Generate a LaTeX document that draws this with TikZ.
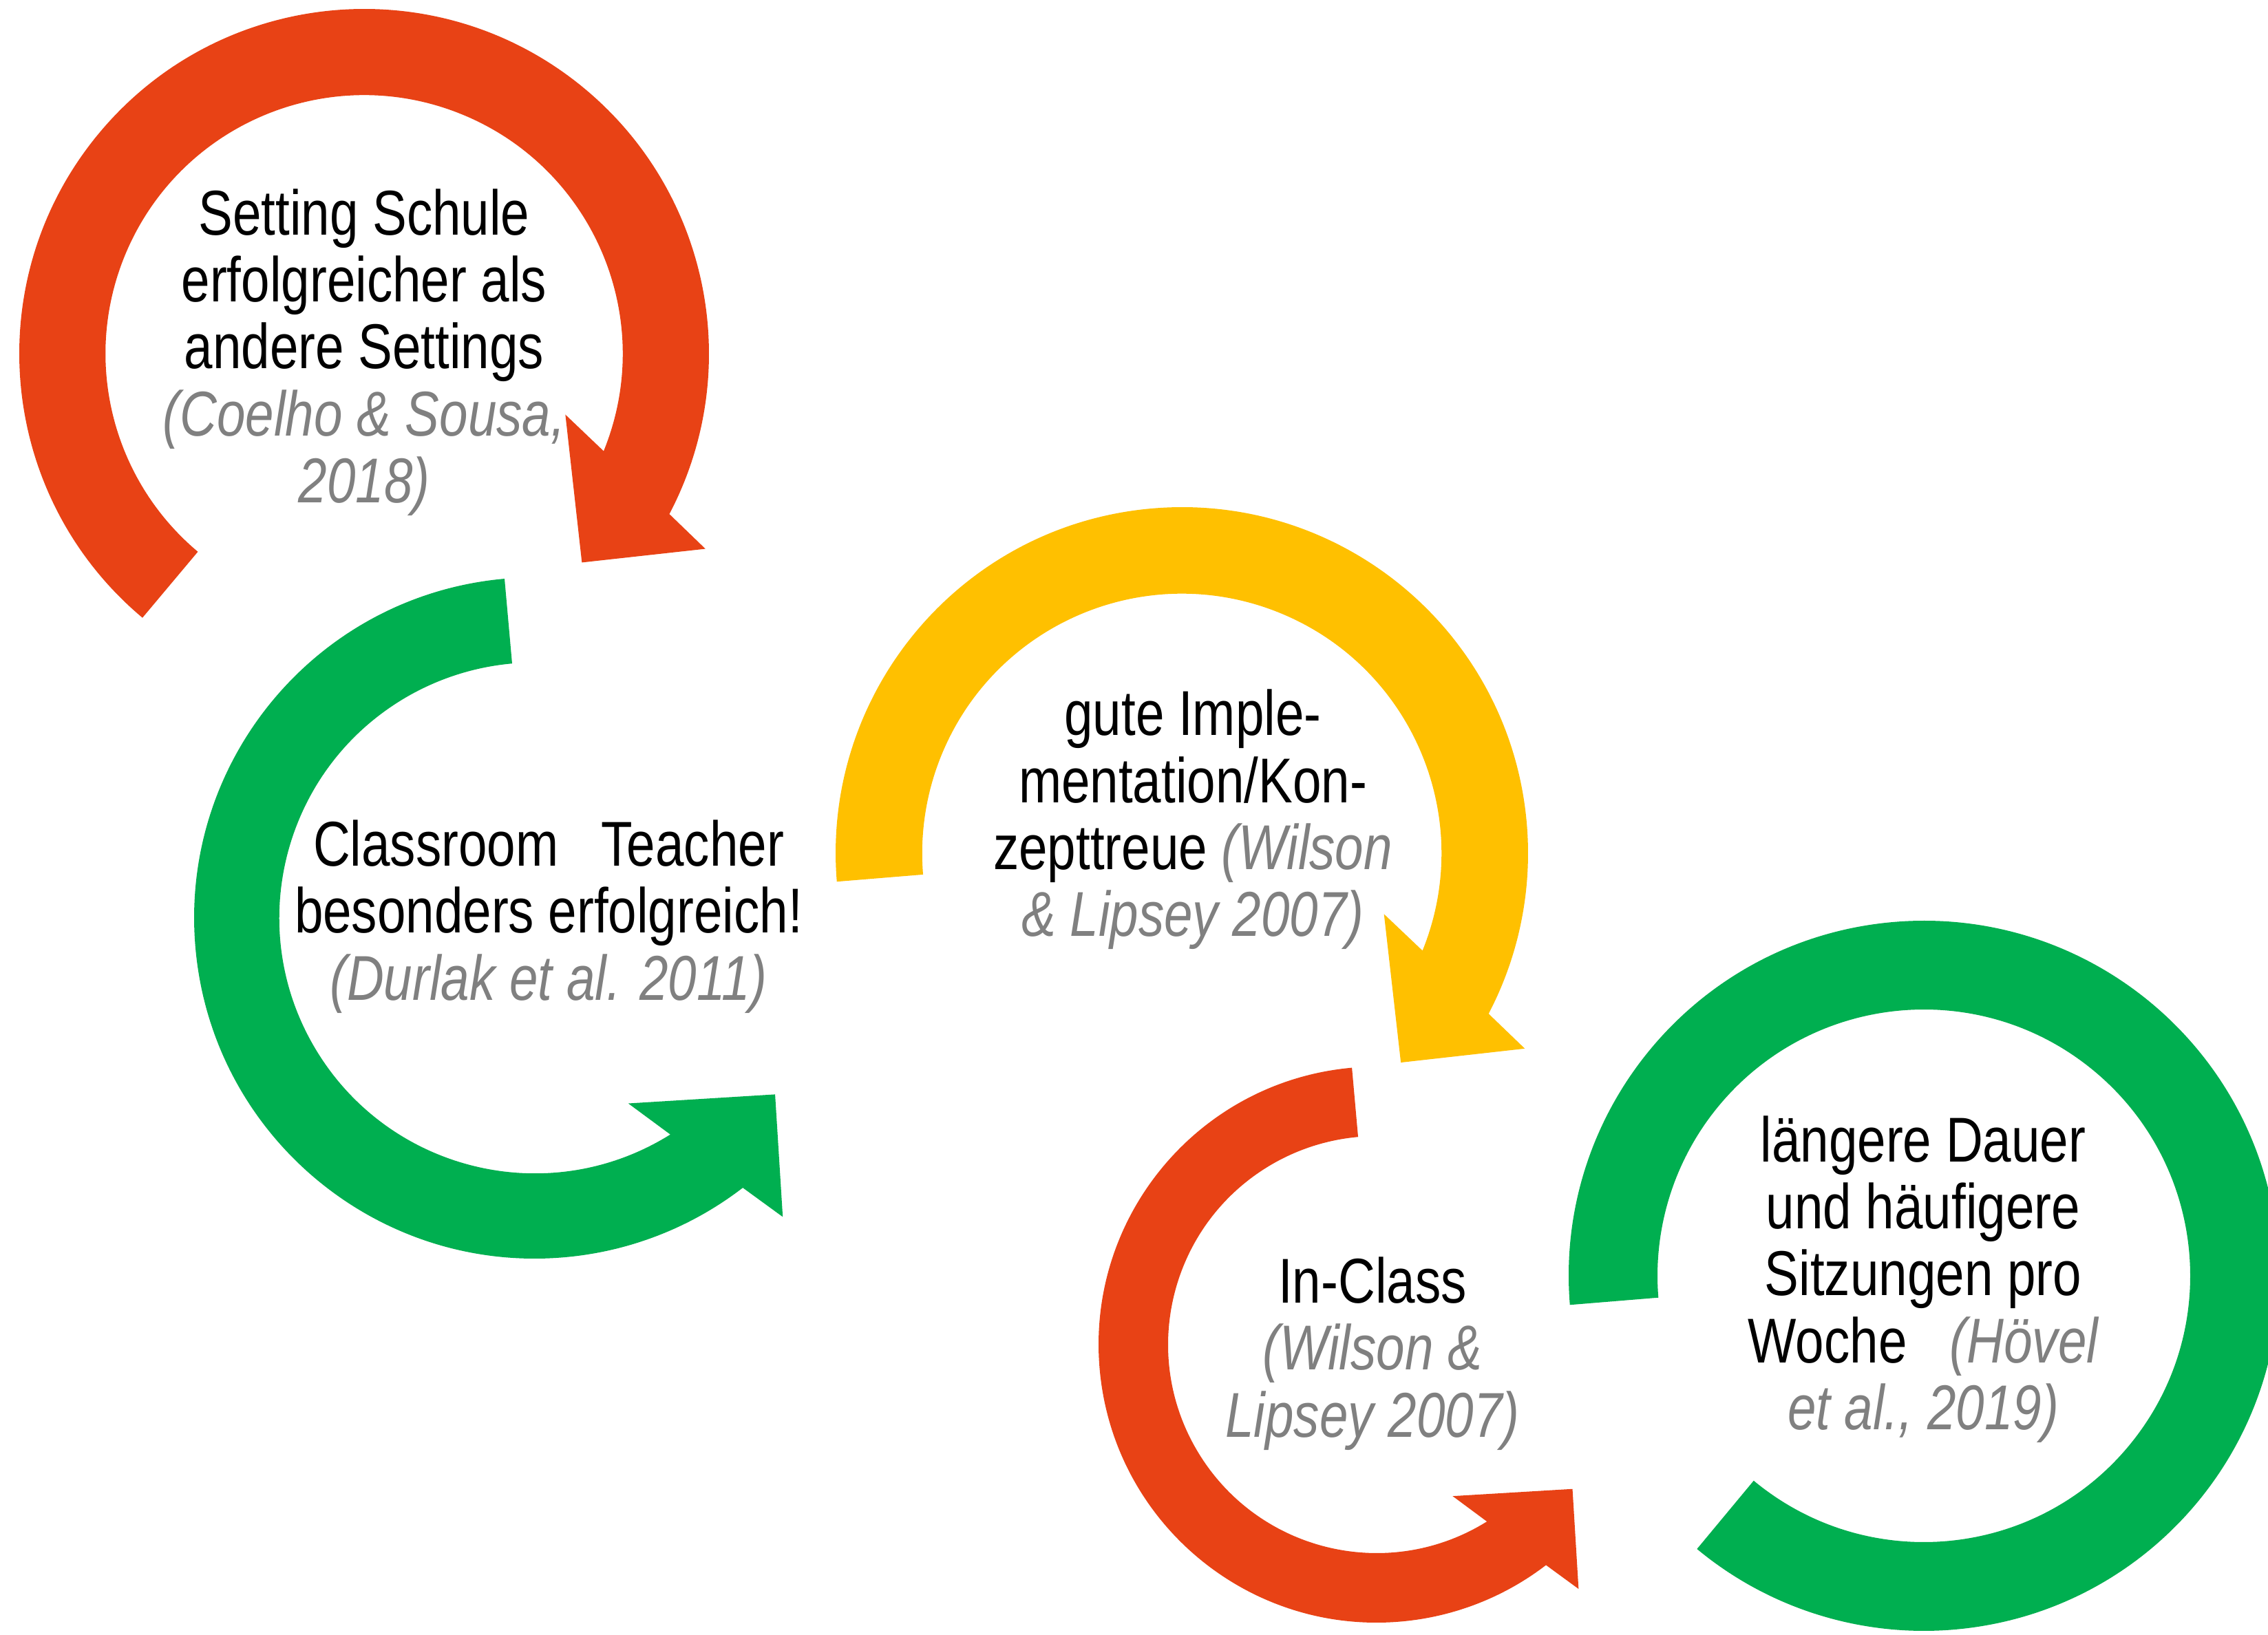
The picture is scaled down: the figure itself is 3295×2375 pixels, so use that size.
\documentclass[tikz,border=0pt]{standalone}
\usepackage{fontspec}
\setmainfont[FakeStretch=0.81]{Liberation Sans}
\definecolor{cred}{HTML}{E84215}
\definecolor{cgreen}{HTML}{00AF50}
\definecolor{cyellow}{HTML}{FFC000}
\definecolor{cgray}{HTML}{808080}
\newcommand{\gcite}[1]{{\color{cgray}\itshape #1}}
% #1 colour, #2 centre, #3 tip angle, #4 mirror (1/-1), #5 outer radius, #6 tail angle (local)
\newcommand{\carrow}[6]{%
  \begin{scope}[shift={#2}, rotate=#3, yscale=#4, scale=#5]
    \fill[#1] (#6:1) arc[start angle=#6, end angle=16.08, radius=1]
      -- (1.1061,0.2765) -- (0.875,0) -- (0.5435,0.2765)
      -- (21.67:0.75) arc[start angle=21.67, end angle=#6, radius=0.75] -- cycle;
  \end{scope}}
\begin{document}
\begin{tikzpicture}[x=0.1mm, y=0.1mm,
  txt/.style={align=center, font=\fontsize{26.2pt}{27.7pt}\selectfont, inner sep=0pt}]
\useasboundingbox (0,0) rectangle (3295,2375);
\clip (0,0) rectangle (3295,2375);
\fill[white] (0,0) rectangle (3295,2375);

% circular arrows
\carrow{cred}{(529,1861)}{-43.8}{1}{501}{273.8}
\carrow{cgreen}{(777,1041)}{-36.3}{-1}{495}{228.6}
\carrow{cyellow}{(1717,1135)}{-43.7}{1}{503}{228.4}
\carrow{cred}{(2000,421)}{-36.4}{-1}{404}{228.5}
% plain ring segment (right)
\begin{scope}[shift={(2795,521)}]
  \fill[cgreen] (184.7:516) arc[start angle=184.7, end angle=-129.7, radius=516]
    -- (-129.7:387) arc[start angle=-129.7, end angle=184.7, radius=387] -- cycle;
\end{scope}

% texts
\node[txt] (t1) at (529,1863) {Setting Schule\\erfolgreicher als\\andere Settings\\\gcite{(Coelho \& Sousa,}\\\gcite{2018)}};
\node[txt] (t2) at (797,1043) {Classroom~~~Teacher\\besonders erfolgreich!\\\gcite{(Durlak et al. 2011)}};
\node[txt] (t3) at (1733,1184) {gute Imple-\\mentation/Kon-\\zepttreue \gcite{(Wilson}\\\gcite{\& Lipsey 2007)}};
\node[txt] (t4) at (1994,408) {In-Class\\\gcite{(Wilson \&}\\\gcite{Lipsey 2007)}};
\node[txt] (t5) at (2794,516) {längere Dauer\\und häufigere\\Sitzungen pro\\Woche~~~\gcite{(Hövel}\\\gcite{et al., 2019)}};
\end{tikzpicture}
\end{document}
